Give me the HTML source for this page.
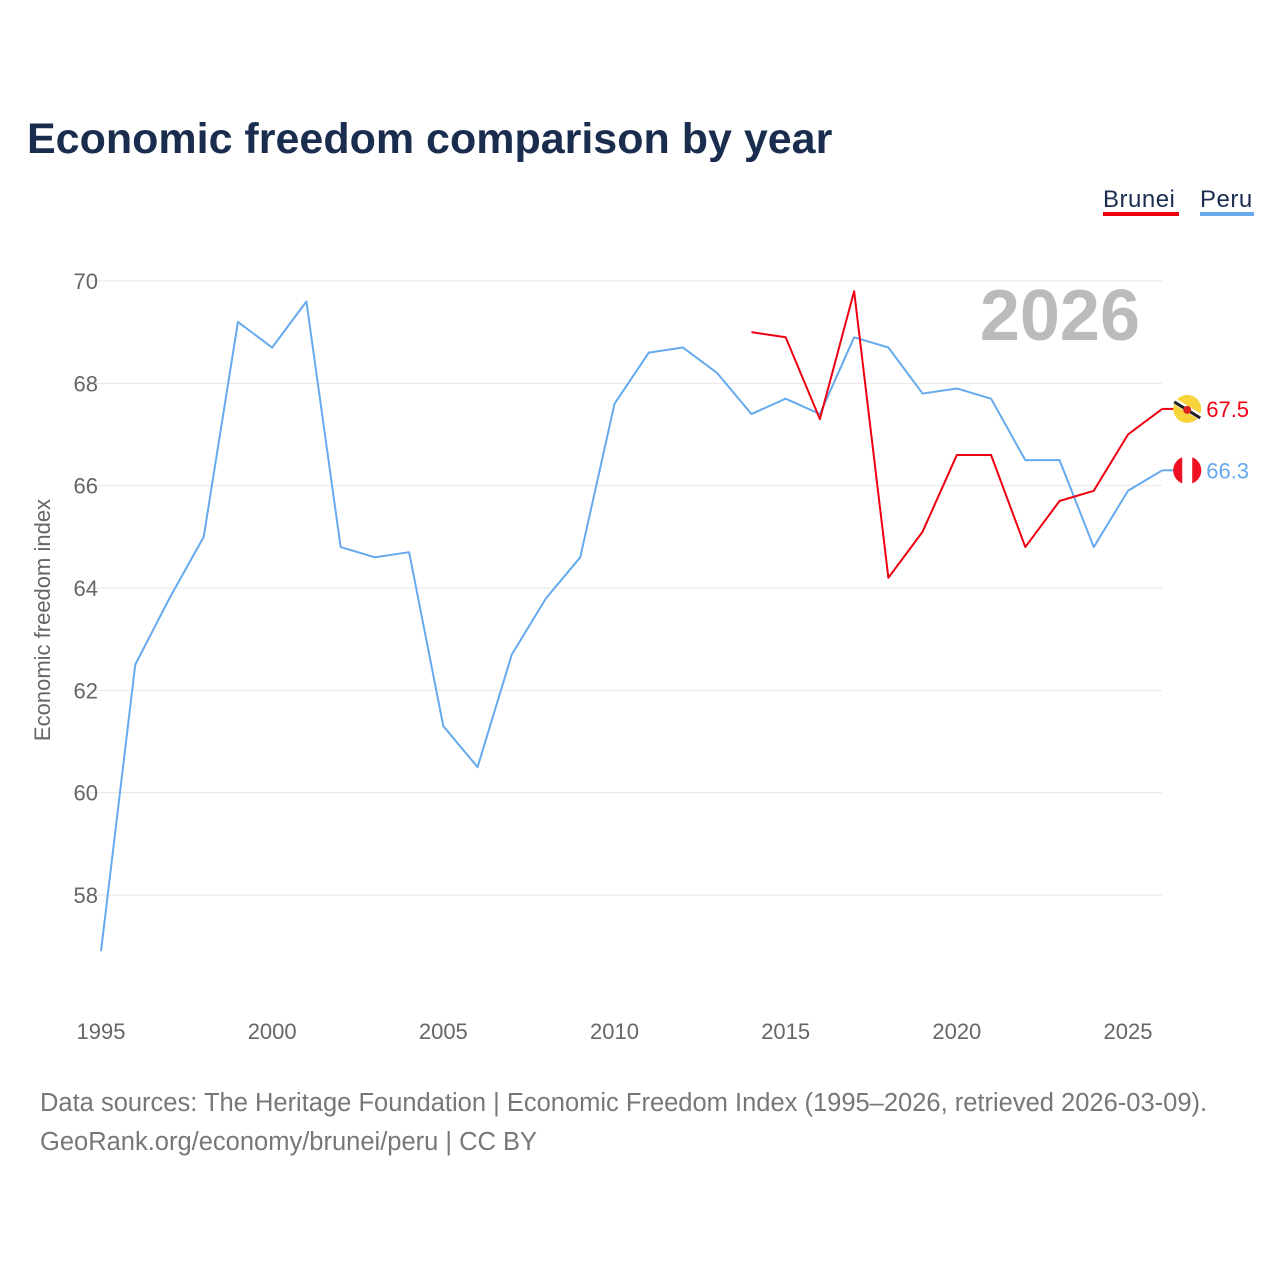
<!DOCTYPE html>
<html><head><meta charset="utf-8"><style>
body{margin:0;background:#fff;width:1280px;height:1280px;overflow:hidden;font-family:"Liberation Sans",sans-serif}
</style></head><body>
<svg id="chart" width="1280" height="1280" xmlns="http://www.w3.org/2000/svg" font-family="Liberation Sans, sans-serif">
<text x="27" y="153" font-size="43" font-weight="bold" fill="#1b2d4f">Economic freedom comparison by year</text>
<g>
<text x="1103" y="207" font-size="24" fill="#1b2d4f" letter-spacing="0.5">Brunei</text>
<rect x="1103" y="212" width="76" height="4" fill="#ee0011"/>
<text x="1200" y="207" font-size="24" fill="#1b2d4f" letter-spacing="0.5">Peru</text>
<rect x="1200" y="212" width="54" height="4" fill="#66aaee"/>
</g>
<text x="1140" y="340" font-size="72" font-weight="bold" fill="#bbbbbb" text-anchor="end">2026</text>
<text transform="translate(50,620) rotate(-90)" font-size="22" fill="#666" text-anchor="middle">Economic freedom index</text>
<g id="grid"></g><g id="marks"></g>
<text x="40" y="1111" font-size="25.5" fill="#777">Data sources: The Heritage Foundation | Economic Freedom Index (1995–2026, retrieved 2026-03-09).</text>
<text x="40" y="1150" font-size="25.5" fill="#777">GeoRank.org/economy/brunei/peru | CC BY</text>
</svg>
<script>
const years=[1995,1996,1997,1998,1999,2000,2001,2002,2003,2004,2005,2006,2007,2008,2009,2010,2011,2012,2013,2014,2015,2016,2017,2018,2019,2020,2021,2022,2023,2024,2025,2026];
const peru=[56.9,62.5,63.8,65.0,69.2,68.7,69.6,64.8,64.6,64.7,61.3,60.5,62.7,63.8,64.6,67.6,68.6,68.7,68.2,67.4,67.7,67.4,68.9,68.7,67.8,67.9,67.7,66.5,66.5,64.8,65.9,66.3];
const bruneiYears=[2014,2015,2016,2017,2018,2019,2020,2021,2022,2023,2024,2025,2026];
const brunei=[69.0,68.9,67.3,69.8,64.2,65.1,66.6,66.6,64.8,65.7,65.9,67.0,67.5];
const yTicks=[58,60,62,64,66,68,70];
const xTicks=[1995,2000,2005,2010,2015,2020,2025];
const X=y=>101+(y-1995)*(1128-101)/30;
const Y=v=>281+(70-v)*(895-281)/12;
const NS="http://www.w3.org/2000/svg";
const grid=document.getElementById('grid'),marks=document.getElementById('marks');
function mk(tag,attrs,parent){const e=document.createElementNS(NS,tag);for(const k in attrs)e.setAttribute(k,attrs[k]);parent.appendChild(e);return e;}
yTicks.forEach(t=>{
 const l=mk('line',{x1:90,x2:1162,y1:Y(t),y2:Y(t),stroke:'#e6e6e6','stroke-width':1},grid);
 
 
 const tx=mk('text',{x:98,y:Y(t)+8,'font-size':22,fill:'#666','text-anchor':'end'},grid);
 tx.textContent=t;
 
 
});
xTicks.forEach(t=>{
 const tx=mk('text',{x:X(t),y:1039,'font-size':22,fill:'#666','text-anchor':'middle'},grid);
 tx.textContent=t;
 
 
});
function line(xs,vs,color,name){
 const p=mk('polyline',{points:xs.map((y,i)=>X(y)+','+Y(vs[i])).join(' '),fill:'none',stroke:color,'stroke-width':2,'stroke-linejoin':'round'},marks);
 
 
}
line(years,peru,'#66aaee','peru-line');
line(bruneiYears,brunei,'#ee0011','brunei-line');
function endLabel(xs,vs,color,name,flag){
 const x=X(xs[xs.length-1]),y=Y(vs[vs.length-1]);
 mk('line',{x1:x,x2:x+14,y1:y,y2:y,stroke:color,'stroke-width':2},marks);
 const g=mk('g',{},marks);
 
 
 if(flag==='peru'){
  mk('circle',{cx:x+25,cy:y,r:14,fill:'#fff'},g);
  mk('path',{d:`M${x+20},${y-13.1} A14,14 0 0 0 ${x+20},${y+13.1} Z`,fill:'#ee1122'},g);
  mk('path',{d:`M${x+30},${y-13.1} A14,14 0 0 1 ${x+30},${y+13.1} Z`,fill:'#ee1122'},g);
 }else{
  mk('circle',{cx:x+25,cy:y,r:14,fill:'#f7d43a'},g);
  mk('line',{x1:x+12,y1:y-8,x2:x+38,y2:y+8,stroke:'#fff','stroke-width':6},g);
  mk('line',{x1:x+12,y1:y-7,x2:x+38,y2:y+9,stroke:'#222','stroke-width':3},g);
  mk('circle',{cx:x+25,cy:y+1,r:4,fill:'#d22'},g);
 }
 const t=mk('text',{x:x+44,y:y+8,'font-size':22,fill:color},marks);
 t.textContent=vs[vs.length-1].toFixed(1);
 
 
}
endLabel(bruneiYears,brunei,'#ee0011','brunei','brunei');
endLabel(years,peru,'#66aaee','peru','peru');
</script>
</body></html>
